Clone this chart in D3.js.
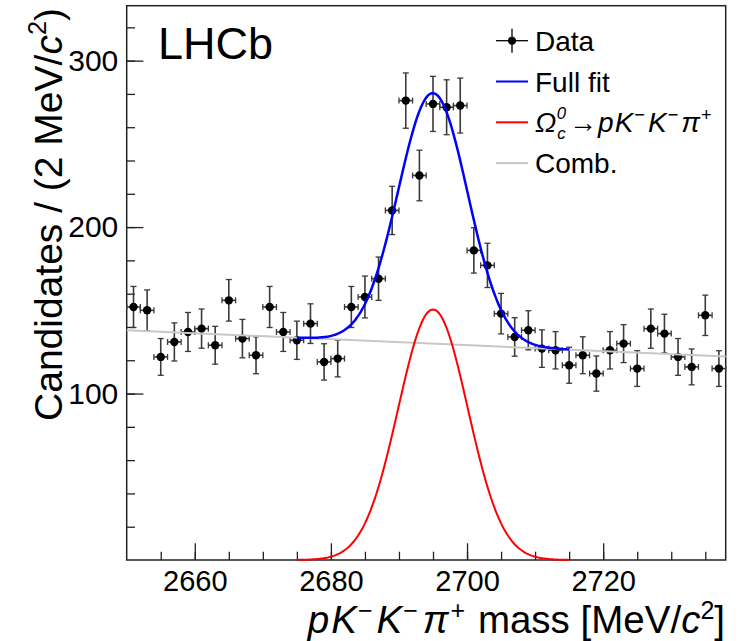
<!DOCTYPE html>
<html>
<head>
<meta charset="utf-8">
<script src="https://cdn.jsdelivr.net/npm/d3@7"></script>
<style>
  html, body { margin: 0; padding: 0; background: #fff; }
  svg { display: block; font-family: "Liberation Sans", Arial, Helvetica, sans-serif; }
</style>
</head>
<body>
<div id="chart"></div>
<script>
// bin centres [MeV/c^2], 2 MeV wide bins
const massBins = [2651, 2653, 2655, 2657, 2659, 2661, 2663, 2665, 2667, 2669,
  2671, 2673, 2675, 2677, 2679, 2681, 2683, 2685, 2687, 2689,
  2691, 2693, 2695, 2697, 2699, 2701, 2703, 2705, 2707, 2709,
  2711, 2713, 2715, 2717, 2719, 2721, 2723, 2725, 2727, 2729,
  2731, 2733, 2735, 2737];
const candidates = [152, 150, 122, 131, 137, 139, 129, 156, 133, 123,
  152, 137, 132, 142, 119, 121, 152, 158, 169, 210,
  276, 231, 274, 272, 273, 186, 177, 148, 134, 138,
  127, 126, 117, 123, 112, 126, 130, 115, 139, 136,
  122, 116, 147, 115];
const binHalf = 1;
const massRange = [2650, 2738];
const countRange = [0, 333];
const xTicks = [2660, 2680, 2700, 2720];
const yTicks = [100, 200, 300];

// fit
const sigMean = 2695.0;
const sigSigma = 5.1;
const sigPeak = 150.5;
const sigRange = [2675, 2715];
const combEnds = [138, 122.3];

const W = 743, H = 641;
const frame = {left: 126.7, right: 725.7, top: 5.7, bottom: 560};

let svg = d3.select('#chart').append('svg')
  .attr('width', W).attr('height', H);

let x = d3.scaleLinear().domain(massRange).range([frame.left, frame.right]);
let y = d3.scaleLinear().domain(countRange).range([frame.bottom, frame.top]);

// text with italic / sub / superscript pieces
function richText(text, parts, size) {
  let shift = 0;
  parts.forEach(p => {
    let target = p.sup ? -(p.lift || 0.34) * size : (p.sub ? (p.drop || 0.22) * size : 0);
    let ts = text.append('tspan').text(p.t)
      .attr('dy', target - shift)
      .style('font-size', (p.sup || p.sub ? (p.scale || 0.65) * size : size) + 'px');
    if (p.i) ts.style('font-style', 'italic');
    if (p.dx) ts.attr('dx', p.dx);
    shift = target;
  });
  return text;
}

// axes, ticks pointing inward
let xMinor = d3.range(2655, 2738, 5);
let yMinor = d3.range(20, 333, 20);

let gx = svg.append('g').attr('transform', `translate(0,${frame.bottom})`);
gx.append('g').call(d3.axisBottom(x).tickValues(xMinor).tickSize(-8.3).tickFormat(''));
gx.append('g').attr('class', 'xmajor')
  .call(d3.axisBottom(x).tickValues(xTicks).tickSize(-16.7).tickPadding(10).tickFormat(d3.format('d')));

let gy = svg.append('g').attr('transform', `translate(${frame.left},0)`);
gy.append('g').call(d3.axisLeft(y).tickValues(yMinor).tickSize(-8.3).tickFormat(''));
gy.append('g').call(d3.axisLeft(y).tickValues(yTicks).tickSize(-16.7).tickPadding(8.4).tickFormat(d3.format('d')));

svg.selectAll('.domain').remove();
svg.selectAll('.tick line').attr('stroke', '#222').attr('stroke-width', 1.3);
svg.selectAll('.tick text').attr('fill', '#000').style('font-size', '30px')
  .style('font-family', '"Liberation Sans", Arial, sans-serif');
svg.selectAll('.xmajor .tick text').style('font-size', '29px');

svg.append('rect')
  .attr('x', frame.left).attr('y', frame.top)
  .attr('width', frame.right - frame.left).attr('height', frame.bottom - frame.top)
  .attr('fill', 'none').attr('stroke', '#222').attr('stroke-width', 1.5);

// data points with Poisson errors
let pts = svg.append('g').selectAll('g').data(massBins.map((m, i) => ({m: m, n: candidates[i]})))
  .join('g');
let errCol = '#3a3a3a';
pts.append('line')
  .attr('x1', d => x(d.m)).attr('x2', d => x(d.m))
  .attr('y1', d => y(d.n - Math.sqrt(d.n))).attr('y2', d => y(d.n + Math.sqrt(d.n)))
  .attr('stroke', errCol).attr('stroke-width', 1.6);
pts.append('line')
  .attr('x1', d => x(d.m - binHalf)).attr('x2', d => x(d.m + binHalf))
  .attr('y1', d => y(d.n)).attr('y2', d => y(d.n))
  .attr('stroke', errCol).attr('stroke-width', 1.6);
[-1, 1].forEach(s => {
  pts.append('line')
    .attr('x1', d => x(d.m) - 3).attr('x2', d => x(d.m) + 3)
    .attr('y1', d => y(d.n + s * Math.sqrt(d.n))).attr('y2', d => y(d.n + s * Math.sqrt(d.n)))
    .attr('stroke', errCol).attr('stroke-width', 1.3);
  pts.append('line')
    .attr('x1', d => x(d.m + s * binHalf)).attr('x2', d => x(d.m + s * binHalf))
    .attr('y1', d => y(d.n) - 3).attr('y2', d => y(d.n) + 3)
    .attr('stroke', errCol).attr('stroke-width', 1.3);
});
pts.append('circle')
  .attr('cx', d => x(d.m)).attr('cy', d => y(d.n)).attr('r', 4.2)
  .attr('fill', '#000');

// fit curves
let comb = m => combEnds[0] + (combEnds[1] - combEnds[0]) * (m - massRange[0]) / (massRange[1] - massRange[0]);
let sig = m => sigPeak * Math.exp(-0.5 * Math.pow((m - sigMean) / sigSigma, 2));
let sigGrid = d3.range(sigRange[0], sigRange[1] + 0.001, 0.2);
let line = d3.line().x(d => x(d[0])).y(d => y(d[1]));

svg.append('path').datum(massRange.map(m => [m, comb(m)]))
  .attr('d', line).attr('fill', 'none').attr('stroke', '#c8c8c8').attr('stroke-width', 2);
svg.append('path').datum(sigGrid.map(m => [m, sig(m) + comb(m)]))
  .attr('d', line).attr('fill', 'none').attr('stroke', '#0000ff').attr('stroke-width', 2.5);
svg.append('path').datum(sigGrid.map(m => [m, sig(m)]))
  .attr('d', line).attr('fill', 'none').attr('stroke', '#ff0000').attr('stroke-width', 2);

// labels
svg.append('text').attr('x', 158).attr('y', 58.5)
  .style('font-size', '45px').attr('fill', '#000').text('LHCb');

richText(svg.append('text').attr('x', 725).attr('y', 632.5).attr('text-anchor', 'end').attr('fill', '#000'), [
  {t: 'p', i: true}, {t: 'K', i: true, dx: 2}, {t: '\u2212', sup: true, dx: 1}, {t: 'K', i: true, dx: 4},
  {t: '\u2212', sup: true, dx: 1}, {t: '\u03c0', i: true, dx: 5}, {t: '+', sup: true, dx: 2},
  {t: ' mass [MeV/', dx: 2}, {t: 'c', i: true}, {t: '2', sup: true}, {t: ']'}
], 38.5);

richText(svg.append('text').attr('transform', 'translate(61.7,8) rotate(-90)')
  .attr('text-anchor', 'end').attr('fill', '#000'), [
  {t: 'Candidates / (2 MeV/'}, {t: 'c', i: true}, {t: '2', sup: true, lift: 0.4}, {t: ')'}
], 39);

// legend
let legY0 = 40.7, legStep = 40.8, legX0 = 496, legX1 = 528, legTx = 535, legSize = 28;
let legend = svg.append('g');
let rowY = i => legY0 + i * legStep;

legend.append('line').attr('x1', legX0).attr('x2', legX1).attr('y1', rowY(0)).attr('y2', rowY(0))
  .attr('stroke', '#000').attr('stroke-width', 1.3);
legend.append('line').attr('x1', (legX0 + legX1) / 2).attr('x2', (legX0 + legX1) / 2)
  .attr('y1', rowY(0) - 12).attr('y2', rowY(0) + 12).attr('stroke', '#000').attr('stroke-width', 1.3);
legend.append('circle').attr('cx', (legX0 + legX1) / 2).attr('cy', rowY(0)).attr('r', 4).attr('fill', '#000');

[['#0000ff', 1], ['#ff0000', 2], ['#c8c8c8', 3]].forEach(([col, i]) => {
  legend.append('line').attr('x1', legX0).attr('x2', legX1).attr('y1', rowY(i)).attr('y2', rowY(i))
    .attr('stroke', col).attr('stroke-width', 2);
});

let legText = i => legend.append('text').attr('x', legTx).attr('y', rowY(i) + 10)
  .attr('fill', '#000').style('font-size', legSize + 'px');
legText(0).text('Data');
legText(1).text('Full fit');
richText(legText(2), [
  {t: '\u03a9', i: true},
  {t: 'c', i: true, sub: true, dx: 1, scale: 0.6, drop: 0.25},
  {t: '0', i: true, sup: true, dx: -9, scale: 0.6, lift: 0.46},
  {t: '\u2192', dx: 3}, {t: 'p', i: true, dx: 1}, {t: 'K', i: true, dx: 1},
  {t: '\u2212', sup: true, dx: 1, lift: 0.4},
  {t: 'K', i: true, dx: 3}, {t: '\u2212', sup: true, dx: 1, lift: 0.4},
  {t: '\u03c0', i: true, dx: 3}, {t: '+', sup: true, dx: 1, lift: 0.4}
], legSize);
legText(3).text('Comb.');
</script>
</body>
</html>
